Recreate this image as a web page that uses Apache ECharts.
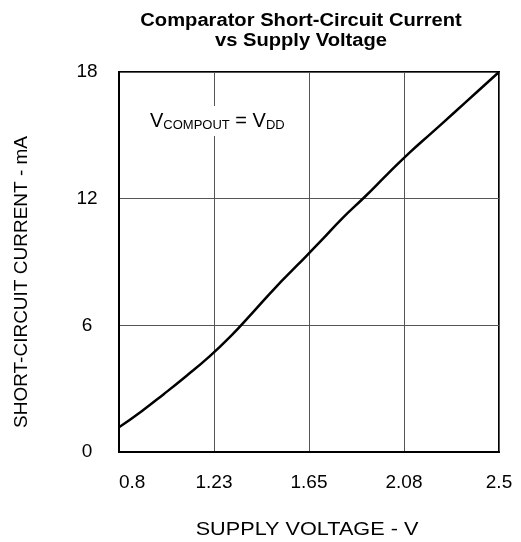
<!DOCTYPE html>
<html>
<head>
<meta charset="utf-8">
<script src="https://cdn.jsdelivr.net/npm/echarts@6/dist/echarts.min.js"></script>
<style>
html,body{margin:0;padding:0;background:#fff;}
#chart{width:521px;height:542px;}
</style>
</head>
<body>
<div id="chart"></div>
<script>
// Data
var voltage = [0.8, 0.9, 1.0, 1.1, 1.2, 1.3, 1.4, 1.5, 1.6, 1.7, 1.8, 1.9, 2.0, 2.1, 2.2, 2.3, 2.4, 2.5];
var current = [1.17, 1.92, 2.74, 3.59, 4.48, 5.49, 6.63, 7.79, 8.87, 9.96, 11.08, 12.09, 13.15, 14.18, 15.13, 16.08, 17.04, 18.0];
var xTickLabels = ['0.8', '1.23', '1.65', '2.08', '2.5'];
var yTickLabels = ['0', '6', '12', '18'];
var titleText = 'Comparator Short-Circuit Current\nvs Supply Voltage';
var xName = 'SUPPLY VOLTAGE - V';
var yName = 'SHORT-CIRCUIT CURRENT - mA';

var FONT = 'Arial, "Liberation Sans", Helvetica, sans-serif';
var chart = echarts.init(document.getElementById('chart'), null, {renderer: 'canvas'});

var seriesData = voltage.map(function (v, i) { return [v, current[i]]; });

chart.setOption({
  animation: false,
  backgroundColor: '#fff',
  grid: {
    left: 119, top: 72, width: 380, height: 380,
    show: true, borderColor: '#000', borderWidth: 2, containLabel: false
  },
  xAxis: {
    type: 'value', min: 0.8, max: 2.5, interval: 0.425,
    axisLine: {show: true, onZero: false, lineStyle: {color: '#000', width: 2}},
    axisTick: {show: false},
    splitLine: {show: true, lineStyle: {color: '#555', width: 1}},
    axisLabel: {
      color: '#000', fontSize: 19, fontFamily: FONT, margin: 21,
      alignMinLabel: 'left',
      formatter: function (v, idx) { return xTickLabels[idx] !== undefined ? xTickLabels[idx] : ''; }
    }
  },
  yAxis: {
    type: 'value', min: 0, max: 18, interval: 6,
    axisLine: {show: true, onZero: false, lineStyle: {color: '#000', width: 2}},
    axisTick: {show: false},
    splitLine: {show: true, lineStyle: {color: '#555', width: 1}},
    axisLabel: {
      color: '#000', fontSize: 19, fontFamily: FONT, margin: 32, align: 'center',
      padding: [3, 0, 0, 0],
      formatter: function (v, idx) { return yTickLabels[idx] !== undefined ? yTickLabels[idx] : ''; }
    }
  },
  graphic: [
    {
      type: 'text', x: 301, y: 11, scaleX: 1.12,
      style: {
        text: titleText, fill: '#000', font: 'bold 18px ' + FONT,
        align: 'center', verticalAlign: 'top', lineHeight: 20
      }
    },
    {
      type: 'text', x: 307, y: 530, scaleX: 1.14,
      style: {
        text: xName, fill: '#000', font: '19px ' + FONT,
        align: 'center', verticalAlign: 'middle'
      }
    },
    {
      type: 'text', x: 22, y: 282, rotation: Math.PI / 2,
      style: {
        text: yName, fill: '#000', font: '19px ' + FONT,
        align: 'center', verticalAlign: 'middle'
      }
    },
    {
      type: 'text', x: 146, y: 106, z: 50,
      style: {
        text: '{a|V}{s|COMPOUT}{a| = V}{s|DD}',
        backgroundColor: '#fff',
        padding: [2, 4, 2, 4],
        rich: {
          a: {fontSize: 20, fontFamily: FONT, fill: '#000', color: '#000', lineHeight: 26},
          s: {fontSize: 13, fontFamily: FONT, fill: '#000', color: '#000', lineHeight: 26, padding: [9, 0, 0, 0]}
        }
      }
    }
  ],
  series: [{
    type: 'line', data: seriesData, smooth: true, showSymbol: false,
    lineStyle: {color: '#000', width: 2.5}, z: 10
  }]
});
</script>
</body>
</html>
